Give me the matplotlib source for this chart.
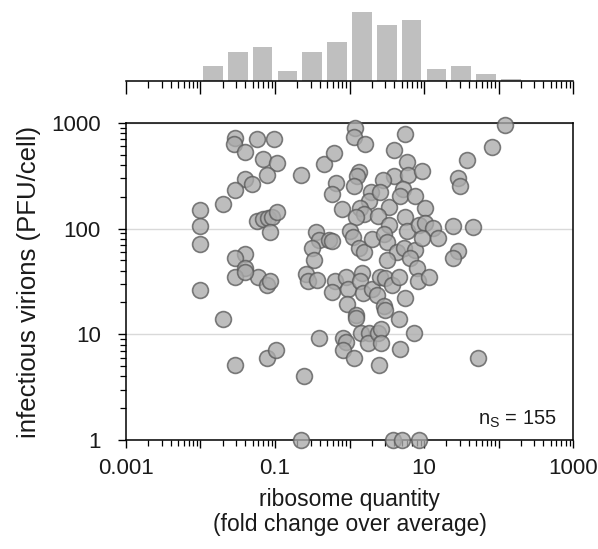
import numpy as np
import matplotlib
matplotlib.use('Agg')
import matplotlib.pyplot as plt
from matplotlib.ticker import LogLocator, NullFormatter

plt.rcParams['font.family'] = ['Liberation Sans', 'DejaVu Sans']
plt.rcParams['mathtext.fontset'] = 'custom'
plt.rcParams['mathtext.rm'] = 'Liberation Sans'
plt.rcParams['mathtext.it'] = 'Liberation Sans:italic'

# ---- data: ribosome quantity (fold change) vs infectious virions (PFU/cell)
ribosome = [
    0.029, 0.028, 0.039, 0.058, 0.097, 0.068, 0.107, 0.077, 0.039, 0.049,
    0.029, 0.020, 0.0097, 0.0097, 0.0097, 0.0097, 0.020, 0.057, 0.068, 0.080,
    0.092, 0.108, 0.087, 0.039, 0.029, 0.039, 0.029, 0.059, 0.077, 0.087,
    0.029, 0.077, 0.103, 0.223, 0.245, 0.040,
    0.223, 0.455, 0.355, 0.393, 0.317, 0.337, 0.258, 0.275, 0.363, 0.390,
    0.625, 0.659, 0.577, 0.80, 0.531, 0.582, 0.639, 0.577, 0.898, 0.954,
    0.925, 0.818, 0.898, 0.83,
    1.185, 1.14, 1.6, 1.33, 1.25, 1.156, 1.914, 1.80, 1.383, 1.566,
    1.204, 1.03, 1.104, 1.362, 1.566, 2.018, 1.458, 1.383, 1.504, 1.986,
    1.241, 1.204, 1.405, 1.828, 1.771, 1.167,
    3.9, 3.99, 2.82, 2.57, 3.39, 2.41, 3.34, 2.93, 3.14, 4.3,
    3.21, 2.57, 3.0, 2.32, 3.68, 4.59, 2.86, 2.95, 2.38, 2.61,
    2.61, 2.51, 3.78,
    5.56, 5.86, 6.15, 9.4, 5.22, 4.76, 7.57, 5.56, 5.86, 5.39,
    7.57, 6.49, 8.57, 7.98, 8.38, 5.56, 4.66, 4.69, 7.34, 5.02,
    8.7,
    10.2, 10.3, 13.3, 9.31, 15.6, 11.7,
    24.7, 45.9, 28.8, 24.3, 37.4, 28.8, 30.4,
    82.6, 52.6, 122,
]
virions = [
    726, 628, 528, 701, 701, 453, 416, 324, 297, 265,
    231, 171, 151, 105, 72, 26, 14.1, 117, 124, 125,
    128, 143, 92, 58, 53, 42, 35, 35, 29, 32,
    5.1, 6.0, 7.1, 1.0, 4.0, 39,
    322, 407, 92, 78, 65, 51, 37, 32, 33, 9.2,
    517, 269, 213, 152, 78, 76, 32, 25, 35, 27,
    19.2, 9.2, 8.4, 7.1,
    891, 729, 637, 346, 313, 255, 222, 183, 156, 138,
    128, 95, 83, 65, 60, 79, 38, 32, 24.5, 27,
    15.3, 14.2, 10.3, 10.3, 8.2, 6.0,
    561, 315, 286, 224, 160, 132, 108, 89, 75, 60,
    50, 35, 34, 23.6, 29, 35, 18.4, 17.1, 10.3, 11.3,
    8.2, 5.1, 1.0,
    787, 431, 322, 354, 238, 204, 204, 128, 94, 65,
    63, 53, 108, 42, 32, 22, 14.1, 7.2, 10.2, 1.0,
    1.0,
    156, 112, 101, 81, 81, 35,
    106, 103, 62, 53, 447, 300, 254,
    593, 6.0, 947,
]

# histogram of ribosome quantity (1/3-decade bins starting at 0.01)
hist_counts = [6, 12, 14, 4, 12, 16, 28, 23, 25, 5, 6, 3, 1]
hist_first_edge_log = -2.0
hist_bin_width_log = 1.0 / 3.0

x_tick_values = [0.001, 0.01, 0.1, 1, 10, 100, 1000]
x_tick_labels = ['0.001', '', '0.1', '', '10', '', '1000']
y_tick_values = [1, 10, 100, 1000]
y_tick_labels = ['1', '10', '100', '1000']

n_cells_text = r'n$_{\mathrm{S}}$ = 155'
x_label = 'ribosome quantity\n(fold change over average)'
y_label = 'infectious virions (PFU/cell)'

text_color = '#1a1a1a'

fig = plt.figure(figsize=(5.98, 5.49), dpi=100)
ax = fig.add_axes([0.2107, 0.1986, 0.7475, 0.5774])
axh = fig.add_axes([0.2107, 0.8525, 0.7475, 0.1251])

# ---- main scatter
ax.set_xscale('log')
ax.set_yscale('log')
ax.set_xlim(0.001, 1000)
ax.set_ylim(1, 1000)
ax.scatter(ribosome, virions, s=130, facecolor='#ababab', edgecolor='#5a5a5a',
           linewidth=1.2, alpha=0.78, zorder=3, clip_on=False)

ax.set_axisbelow(True)
ax.yaxis.grid(True, which='major', color='#d9d9d9', linewidth=1.0)
ax.set_xticks(x_tick_values, labels=x_tick_labels)
ax.set_yticks(y_tick_values, labels=y_tick_labels)
ax.xaxis.set_minor_locator(LogLocator(base=10, subs=np.arange(2, 10), numticks=20))
ax.yaxis.set_minor_locator(LogLocator(base=10, subs=np.arange(2, 10), numticks=20))
ax.xaxis.set_minor_formatter(NullFormatter())
ax.yaxis.set_minor_formatter(NullFormatter())
ax.tick_params(axis='both', which='major', direction='out', length=6, width=1,
               labelsize=16, colors='black', labelcolor=text_color)
ax.tick_params(axis='both', which='minor', direction='out', length=4, width=0.9,
               colors='black')
ax.tick_params(axis='x', which='major', pad=7)
ax.tick_params(axis='y', which='major', pad=12)
for sp in ax.spines.values():
    sp.set_linewidth(1.1)
    sp.set_color('black')

ax.set_xlabel(x_label, fontsize=16.5, color=text_color, linespacing=1.15)
ax.set_ylabel(y_label, fontsize=18.5, color=text_color)
ax.xaxis.set_label_coords(0.5, -0.15)
ax.yaxis.set_label_coords(-0.19, 0.5)

ax.text(0.964, 0.047, n_cells_text, transform=ax.transAxes, ha='right',
        va='baseline', fontsize=14.5, color=text_color)

# ---- marginal histogram
axh.set_xscale('log')
axh.set_xlim(0.001, 1000)
axh.set_ylim(0, max(hist_counts))
edges_log = hist_first_edge_log + hist_bin_width_log * np.arange(len(hist_counts) + 1)
gap = 0.035
lefts = 10 ** (edges_log[:-1] + gap)
rights = 10 ** (edges_log[1:] - gap)
axh.bar(lefts, hist_counts, width=rights - lefts, align='edge', color='#bfbfbf',
        linewidth=0)
for name in ['top', 'left', 'right']:
    axh.spines[name].set_visible(False)
axh.spines['bottom'].set_linewidth(1.1)
axh.set_yticks([])
axh.set_xticks(x_tick_values, labels=[''] * len(x_tick_values))
axh.xaxis.set_minor_locator(LogLocator(base=10, subs=np.arange(2, 10), numticks=20))
axh.xaxis.set_minor_formatter(NullFormatter())
axh.tick_params(axis='x', which='major', direction='out', length=9, width=1)
axh.tick_params(axis='x', which='minor', direction='out', length=5, width=0.9)

fig.savefig('out.png', dpi=100)
